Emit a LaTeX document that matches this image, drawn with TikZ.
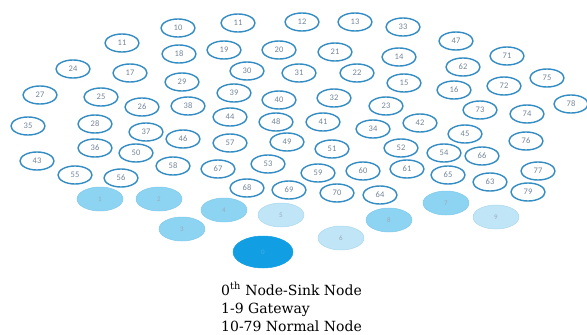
\documentclass[tikz,border=0pt]{standalone}
\usepackage{fontspec}
\usepackage{tikz}
\setmainfont{DejaVu Serif}
\newfontfamily\labfont{Carlito}
\definecolor{ringbl}{rgb}{0.20,0.55,0.76}
\definecolor{labgr}{rgb}{0.45,0.52,0.60}
\definecolor{gwfill}{rgb}{0.55,0.83,0.95}
\definecolor{gwpale}{rgb}{0.75,0.90,0.97}
\definecolor{sinkbl}{rgb}{0.07,0.62,0.89}
\tikzstyle{every node}=[inner sep=0pt]
\tikzstyle{normal}=[draw=ringbl,line width=1.4pt,ellipse,minimum width=34pt,minimum height=18pt,font=\labfont\fontsize{8.5}{8.5}\selectfont,text=labgr]
\tikzstyle{gateway}=[draw=gwfill!85!ringbl,line width=0.5pt,fill=gwfill,ellipse,minimum width=46pt,minimum height=24pt,font=\labfont\fontsize{7}{7}\selectfont,text=labgr!70]
\tikzstyle{legend}=[anchor=base west,font=\fontsize{14}{14}\selectfont]
\usetikzlibrary{shapes.geometric}

\begin{document}
\begin{tikzpicture}[line cap=round,line join=round,x=1pt,y=-1pt]
            \clip(0,0) rectangle (587,335);
            % normal nodes 10-79
            \foreach \lab/\x/\y [count=\k] in {10/178/28,11/122/43,11/238/23,12/302/22,13/355/22,33/403/27,
                18/179/54,19/224/50,20/279/50,21/335/52,14/399/57,47/456/41,71/507/56,
                24/73/69,17/130/73,30/247/71,31/299/73,22/357/73,62/463/67,75/547/78,
                29/182/82,15/404/83,16/454/90,72/504/86,78/571/104,
                27/40/95,25/101/97,26/142/107,38/188/106,39/234/93,40/279/100,32/334/98,23/386/106,73/480/110,74/527/114,
                35/28/126,28/95/124,37/146/132,46/183/139,44/230/117,48/276/122,41/323/122,34/373/129,42/420/123,45/465/134,76/526/141,
                36/95/148,50/136/153,57/230/143,49/287/142,51/332/149,52/401/148,54/444/153,66/482/156,
                43/37/161,58/173/166,67/218/169,53/268/164,59/318/173,60/363/171,61/407/169,65/448/175,63/490/182,77/538/171,
                55/75/175,56/121/178,68/247/188,69/289/190,70/337/193,64/380/195,79/528/192}
              \node[normal] (v\k) at (\x,\y) {\lab};
            % gateways 1-9
            \node[gateway] (g1) at (100,199) {1};
            \node[gateway] (g2) at (159,199) {2};
            \node[gateway] (g3) at (182,229) {3};
            \node[gateway] (g4) at (224,210) {4};
            \node[gateway,fill=gwpale,draw=gwpale!85!ringbl] (g5) at (281,215) {5};
            \node[gateway,fill=gwpale,draw=gwpale!85!ringbl] (g6) at (341,238) {6};
            \node[gateway] (g7) at (446,203) {7};
            \node[gateway] (g8) at (389,220) {8};
            \node[gateway,fill=gwpale,draw=gwpale!85!ringbl] (g9) at (496,217) {9};
            % sink
            \node[gateway,fill=sinkbl,draw=sinkbl,minimum width=60pt,minimum height=32pt,text=sinkbl!80!white] (s0) at (263,252) {0};
            % legend
            \node[legend] (l1) at (221,295) {0\textsuperscript{th} Node-Sink Node};
            \node[legend] (l2) at (221,313) {1-9 Gateway};
            \node[legend] (l3) at (221,331) {10-79 Normal Node};
            \end{tikzpicture}
\end{document}
